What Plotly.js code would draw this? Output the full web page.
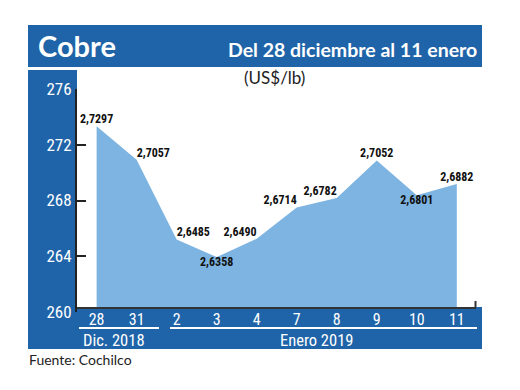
<!DOCTYPE html>
<html>
<head>
<meta charset="utf-8">
<script src="https://cdn.plot.ly/plotly-3.0.1.min.js"></script>
<style>
html,body{margin:0;padding:0;background:#fff;}
#chart{width:520px;height:390px;}
</style>
</head>
<body>
<div id="chart"></div>
<script>
// ---- data ----
const days = ['28', '31', '2', '3', '4', '7', '8', '9', '10', '11'];
const prices = [2.7297, 2.7057, 2.6485, 2.6358, 2.6490, 2.6714, 2.6782, 2.7052, 2.6801, 2.6882]; // US$/lb
const labelPos = ['top center', 'top right', 'top right', 'bottom center', 'top left',
                  'top left', 'top left', 'top center', 'bottom center', 'top center'];
const yTicks = [260, 264, 268, 272, 276];
const groups = ['Dic. 2018', 'Enero 2019'];
const title = 'Cobre';
const subtitle = 'Del 28 diciembre al 11 enero';
const unit = '(US$/lb)';
const source = 'Fuente: Cochilco';

// ---- layout helpers (pixel -> paper) ----
const W = 520, H = 390;
const L = 77, R = 476, T = 84, B = 312;
const px = x => (x - L) / (R - L);
const py = y => (B - y) / (B - T);

const DARK = '#1f64a8';
const FILL = '#7db4e1';
const NARROW = '"Liberation Sans Narrow", "Arial Narrow", "Roboto Condensed", sans-serif';

const cents = prices.map(p => p * 100);
const labels = prices.map(p => p.toFixed(4).replace('.', ','));

const traces = [
  {
    x: days, y: cents, type: 'scatter', mode: 'lines+text',
    fill: 'tozeroy', fillcolor: FILL,
    line: {width: 0, color: FILL},
    text: labels, textposition: labelPos,
    textfont: {family: NARROW, size: 12, color: '#111', weight: 'bold'},
    hoverinfo: 'skip', showlegend: false, cliponaxis: false,
    xaxis: 'x', yaxis: 'y'
  },
  {
    x: [], y: [], type: 'scatter', mode: 'none',
    xaxis: 'x', yaxis: 'y2', showlegend: false, hoverinfo: 'skip'
  }
];

const shapes = [
  // header band
  {type: 'rect', xref: 'paper', yref: 'paper', x0: px(28), x1: px(482), y0: py(67), y1: py(25),
   fillcolor: DARK, line: {width: 0}, layer: 'below'},
  // left column
  {type: 'rect', xref: 'paper', yref: 'paper', x0: px(28), x1: px(77), y0: py(349), y1: py(70),
   fillcolor: DARK, line: {width: 0}, layer: 'below'},
  // bottom band
  {type: 'rect', xref: 'paper', yref: 'paper', x0: px(28), x1: px(482), y0: py(349), y1: py(307),
   fillcolor: DARK, line: {width: 0}, layer: 'below'},
  // group underlines
  {type: 'line', xref: 'paper', yref: 'paper', x0: px(79), x1: px(159), y0: py(328), y1: py(328),
   line: {color: '#fff', width: 2}},
  {type: 'line', xref: 'paper', yref: 'paper', x0: px(170), x1: px(477), y0: py(328), y1: py(328),
   line: {color: '#fff', width: 2}},
  // right end tick of x axis
  {type: 'line', xref: 'paper', yref: 'paper', x0: px(475.5), x1: px(475.5), y0: py(307), y1: py(301),
   line: {color: '#333', width: 2}}
];

const annotations = [
  {text: title, xref: 'paper', yref: 'paper', x: px(36), y: py(46), xanchor: 'left', yanchor: 'middle',
   showarrow: false, font: {family: 'Lato', size: 29, color: '#fff', weight: 'bold'}},
  {text: subtitle, xref: 'paper', yref: 'paper', x: px(479), y: py(50), xanchor: 'right', yanchor: 'middle',
   showarrow: false, font: {family: 'Lato', size: 19.5, color: '#fff', weight: 'bold'}},
  {text: unit, xref: 'paper', yref: 'paper', x: px(274), y: py(78), xanchor: 'center', yanchor: 'middle',
   showarrow: false, font: {family: 'Lato', size: 17, color: '#222'}},
  {text: groups[0], xref: 'paper', yref: 'paper', x: px(114), y: py(340.5), xanchor: 'center', yanchor: 'middle',
   showarrow: false, font: {family: NARROW, size: 16.5, color: '#fff'}},
  {text: groups[1], xref: 'paper', yref: 'paper', x: px(316), y: py(340.5), xanchor: 'center', yanchor: 'middle',
   showarrow: false, font: {family: NARROW, size: 16.5, color: '#fff'}},
  {text: source, xref: 'paper', yref: 'paper', x: px(27), y: py(359), xanchor: 'left', yanchor: 'middle',
   showarrow: false, font: {family: 'Lato', size: 14, color: '#222'}}
];

const layout = {
  width: W, height: H,
  margin: {l: L, r: W - R, t: T, b: H - B, pad: 0},
  paper_bgcolor: '#fff', plot_bgcolor: 'rgba(0,0,0,0)',
  showlegend: false,
  xaxis: {
    type: 'category', range: [-0.49, 9.48], anchor: 'y',
    showline: true, linecolor: '#333', linewidth: 2,
    ticks: '', showgrid: false, zeroline: false,
    ticklabelstandoff: -3,
    tickfont: {family: NARROW, size: 16, color: '#fff'},
    fixedrange: true
  },
  yaxis: {
    domain: [py(307), 1], range: [260, 276], visible: false,
    showgrid: false, zeroline: false, fixedrange: true, anchor: 'x'
  },
  yaxis2: {
    domain: [0, py(89)], range: [260, 276], anchor: 'x', side: 'left',
    tickvals: yTicks, ticktext: yTicks.map(String),
    showline: true, linecolor: '#222', linewidth: 2,
    ticks: 'inside', ticklen: 9, tickwidth: 2, tickcolor: '#222',
    showgrid: false, zeroline: false,
    tickfont: {family: NARROW, size: 17, color: '#fff'},
    fixedrange: true
  },
  shapes: shapes,
  annotations: annotations
};

Plotly.newPlot('chart', traces, layout, {displayModeBar: false, staticPlot: true});
</script>
</body>
</html>
